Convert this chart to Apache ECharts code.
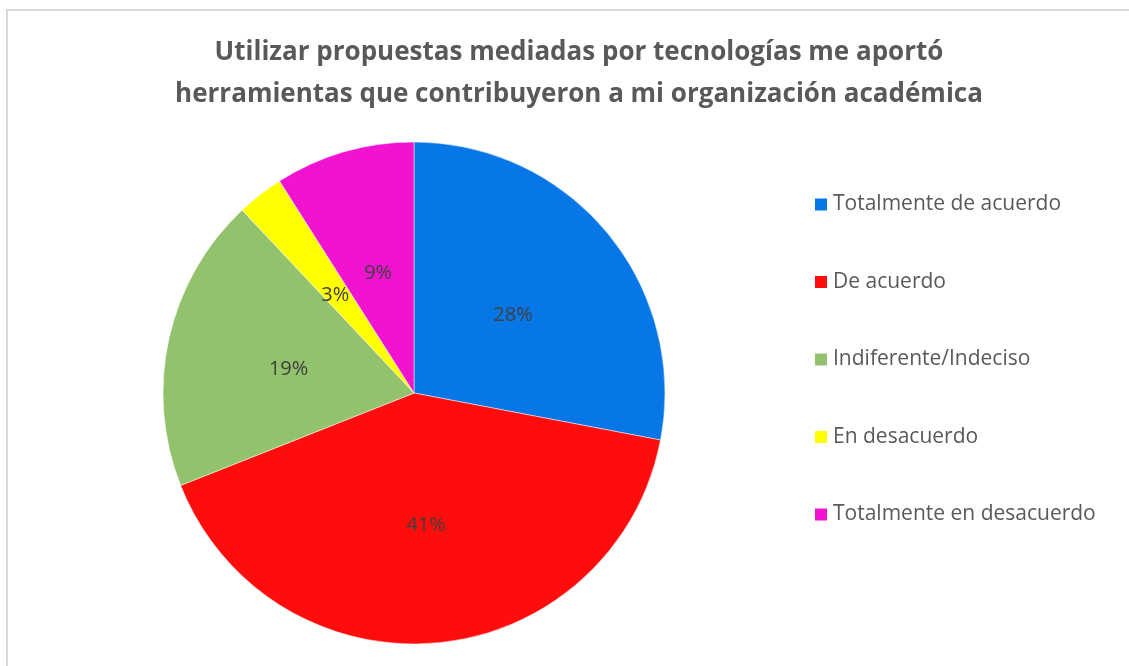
<!DOCTYPE html>
<html>
<head>
<meta charset="utf-8">
<script src="https://cdn.jsdelivr.net/npm/echarts@6/dist/echarts.min.js"></script>
<style>
  html, body { margin: 0; padding: 0; background: #fff; }
  #chart { width: 1129px; height: 666px; }
</style>
</head>
<body>
<div id="chart"></div>
<script>
// datos del gráfico
var categorias = ['Totalmente de acuerdo', 'De acuerdo', 'Indiferente/Indeciso', 'En desacuerdo', 'Totalmente en desacuerdo'];
var porcentajes = [28, 41, 19, 3, 9];
var colores = ['#0777E8', '#FF0D0D', '#92C26B', '#FFFF00', '#F013D0'];

var myChart = echarts.init(document.getElementById('chart'));

var datos = categorias.map(function (nombre, i) {
    return { name: nombre, value: porcentajes[i], itemStyle: { color: colores[i] } };
});

var option = {
    animation: false,
    title: {
        text: 'Utilizar propuestas mediadas por tecnologías me aportó\nherramientas que contribuyeron a mi organización académica',
        left: 574,
        top: 27,
        textAlign: 'center',
        textStyle: {
            fontFamily: 'Open Sans',
            fontWeight: 'bold',
            fontSize: 26,
            lineHeight: 42,
            color: '#595959'
        }
    },
    legend: {
        orient: 'vertical',
        left: 808,
        top: 189,
        itemWidth: 14,
        itemHeight: 14,
        itemGap: 56.5,
        icon: 'rect',
        data: categorias,
        textStyle: {
            fontFamily: 'Open Sans',
            fontSize: 21,
            color: '#595959'
        }
    },
    graphic: [{
        type: 'rect',
        shape: { x: 7, y: 10, width: 1300, height: 900 },
        style: { fill: 'none', stroke: '#d9d9d9', lineWidth: 2 },
        silent: true
    }],
    series: [{
        name: 'Respuestas',
        type: 'pie',
        center: [414, 393],
        radius: 251,
        startAngle: 90,
        clockwise: true,
        label: {
            show: true,
            position: 'inside',
            formatter: '{c}%',
            fontFamily: 'Open Sans',
            fontSize: 20,
            color: '#404040',
            offset: [0, 4]
        },
        labelLine: { show: false },
        itemStyle: { borderColor: '#fff', borderWidth: 0.5 },
        emphasis: { disabled: true },
        data: datos
    }]
};

myChart.setOption(option);
</script>
</body>
</html>
